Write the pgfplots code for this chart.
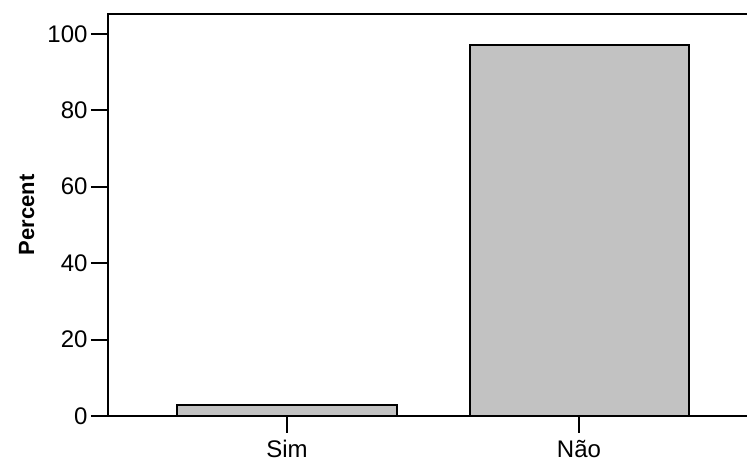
\documentclass[border=0pt]{standalone}
\usepackage{pgfplots}
\pgfplotsset{compat=1.18}
\usepackage{fontspec}
\setmainfont{Liberation Sans}
\begin{document}
\begin{tikzpicture}
\useasboundingbox (-108pt,-49pt) rectangle (639pt,416pt);
\begin{axis}[
  at={(0pt,0pt)}, anchor=south west,
  scale only axis, width=650pt, height=402pt,
  xmin=-0.613, xmax=1.613, ymin=0, ymax=105.2,
  ybar, bar width=0.75,
  xtick={0,1}, xticklabels={Sim,Não},
  ytick={0,20,40,60,80,100},
  xtick pos=bottom, ytick pos=left,
  tick align=outside, major tick length=17pt,
  tick style={line width=2pt, black},
  axis line style={line width=2pt},
  ticklabel style={font=\fontsize{24}{28}\selectfont},
  xticklabel style={yshift=-5pt, inner sep=2pt},
  /pgf/number format/assume math mode=true,
  ylabel={Percent},
  ylabel style={font=\bfseries\fontsize{22}{26}\selectfont, at={(axis description cs:-0.1138,0.5)}, anchor=base},
]
\addplot[fill=black!24, draw=black, line width=2pt] coordinates {(0,2.8) (1,97.2)};
\end{axis}
\end{tikzpicture}
\end{document}
